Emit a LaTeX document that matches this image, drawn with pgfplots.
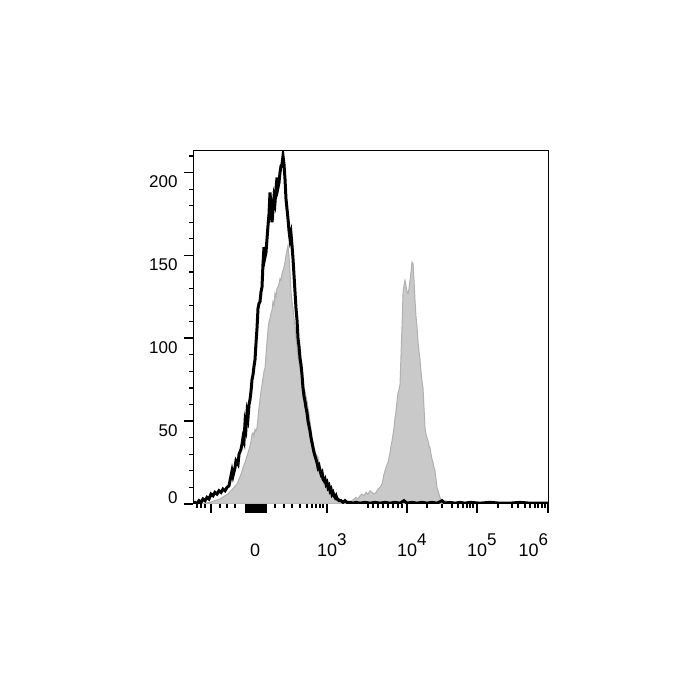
\documentclass[border=0pt]{standalone}
\usepackage{fontspec}
\setmainfont{Liberation Sans}
\usepackage{pgfplots}
\pgfplotsset{compat=1.18}
\newcommand\sups[1]{\raisebox{5.5pt}{\fontsize{8.5}{9}\selectfont #1}}
\begin{document}
\begin{tikzpicture}
\useasboundingbox (0,0) rectangle (350pt,350pt);
\begin{axis}[
  scale only axis, width=177.5pt, height=176.5pt,
  at={(96.5pt,98pt)}, anchor=south west,
  xmin=193, xmax=548, ymin=0, ymax=213,
  axis line style={black, line width=0.5pt},
  tick align=outside, tick pos=left,
  major tick length=4.5pt, minor tick length=2pt,
  major tick style={black, line width=0.9pt},
  minor tick style={black, line width=0.6pt},
  ticklabel style={font=\fontsize{9}{10}\selectfont},
  ytick={50,100,150,200}, yticklabels={50,100,150,200},
  minor ytick={10,20,30,40,60,70,80,90,110,120,130,140,160,170,180,190,210},
  yticklabel style={font=\fontsize{8.5}{10}\selectfont, anchor=north east, inner sep=0pt, xshift=-3pt, yshift=-1.5pt},
  extra y ticks={0}, extra y tick labels={0},
  extra y tick style={yticklabel style={anchor=south east, yshift=1.5pt}},
  xtick={255,327,407,477,548},
  xticklabels={0, 10\rlap{\sups{3}}, 10\rlap{\sups{4}}, 10\rlap{\sups{5}}, \llap{10\sups{6}}},
  xticklabel style={anchor=base, inner sep=0pt, yshift=-22pt},
  extra x ticks={211,246,248,250,252,254,256,258,260,262,264,266},
  extra x tick labels={},
  minor xtick={197,201,205,220,227,235,275,284,292,300,307,312,316,320,323,368,373,378,383,388,393,398,402,427,442,452,458,463,467,470,473,498,512,518,525,530,535,538,542,545},
  clip=true,
]
\addplot[fill=gray!42, draw=gray!62, line width=0.5pt] coordinates {
(200,0)(205,0.5)(210,1)(215,2)(220,3)(225,5)(228,6)(231,8)(234,10)(237,12)(239,15)(241,18)(243,22)(245,25)(247,29)(249,33)(250,35)(251,38)(252,42)(253,43)(254,41)(255,45)(256,44)(257,46)(258,52)(259,58)(260,63)(261,68)(262,72)(263,76)(264,80)(265,82)(266,90)(267,98)(268,105)(269,110)(270,112)(271,115)(272,117)(273,122)(274,120)(275,127)(276,125)(277,130)(278,131)(279,133)(280,136)(281,135)(282,139)(283,141)(284,143)(285,146)(286,150)(287,153)(288,156)(289,150)(290,140)(291,128)(292,122)(293,118)(294,112)(295,107)(296,100)(297,95)(298,89)(299,85)(300,82)(301,78)(302,76)(303,74)(304,70)(305,68)(306,65)(307,62)(308,58)(309,54)(310,50)(311,45)(312,40)(313,37)(314,34)(315,32)(316,30)(317,29)(318,28)(319,25)(320,22)(321,21)(322,20)(323,19)(324,17)(325,16)(326,14)(327,13)(328,12)(329,10)(330,9)(331,8)(332,7)(333,6)(334,5)(335,4)(336,4)(337,3)(338,3)(340,2)(342,2)(345,1)(348,1)(350,1)(352,2)(354,3)(356,4)(358,3)(360,5)(362,6)(364,5)(366,7)(368,6)(370,8)(372,7)(374,6)(376,7)(378,9)(380,10)(382,12)(383,15)(384,18)(385,20)(386,22)(387,24)(388,25)(389,28)(390,31)(391,35)(392,38)(393,42)(394,46)(395,52)(396,56)(397,62)(398,67)(399,69)(400,72)(401,90)(402,107)(403,127)(404,132)(405,135)(406,132)(407,128)(408,127)(409,130)(410,135)(411,140)(412,146)(413,145)(414,135)(415,123)(416,113)(417,107)(418,98)(419,92)(420,87)(421,80)(422,74)(423,70)(424,58)(425,46)(426,42)(427,40)(428,38)(429,35)(430,34)(431,30)(432,27)(433,25)(434,22)(435,20)(436,15)(437,10)(438,8)(439,6)(440,4)(441,3)(442,2)(444,1)(446,2)(448,1)(450,1.5)(452,0.5)(455,0.5)(460,0)
} \closedcycle;
\addplot[black, line width=1.5pt] coordinates {
(193,0.5)(195,1)(197,0)(199,2)(201,1)(203,3)(205,2)(207,4)(209,3)(211,6)(213,5)(215,7)(217,6)(219,8)(221,7)(223,9)(225,8)(227,10)(229,11)(230,14)(232,20)(233,17)(235,22)(236,26)(238,24)(239,30)(241,33)(242,36)(243,40)(244,38)(245,49)(246,46)(247,55)(248,52)(249,60)(250,63)(251,68)(252,75)(253,78)(254,83)(255,87)(256,97)(257,106)(258,118)(259,121)(260,122)(261,128)(262,131)(263,145)(264,155)(265,149)(266,152)(267,160)(268,168)(269,175)(270,188)(271,180)(272,170)(273,177)(274,185)(275,182)(276,190)(277,197)(278,191)(279,194)(280,200)(281,204)(282,205)(283,210)(284,205)(285,196)(286,184)(287,178)(288,172)(289,165)(290,160)(291,163)(292,156)(293,148)(294,138)(295,128)(296,118)(297,111)(298,100)(299,95)(300,88)(301,84)(302,78)(303,70)(304,65)(305,62)(306,58)(307,55)(308,50)(309,47)(310,44)(311,40)(312,37)(313,34)(314,31)(315,29)(316,27)(317,25)(318,22)(319,23)(320,20)(321,18)(322,19)(323,15)(324,14)(325,15)(326,12)(327,13)(328,10)(329,11)(330,8)(331,9)(332,6)(333,7)(334,5)(335,4)(336,5)(337,3)(338,3)(339,2)(341,2)(343,1)(345,2)(347,1)(350,1)(353,0.5)(356,1)(360,0.5)(365,1)(370,0.5)(375,1)(380,0.5)(385,1)(390,0.5)(395,1)(400,0.5)(404,2)(407,0.5)(412,1)(417,0.5)(422,1)(427,0.5)(432,1)(437,0.5)(442,2)(445,0.5)(450,1)(455,0.5)(460,1)(465,0.5)(470,1)(480,0.5)(490,1)(500,0.5)(510,0.5)(520,1)(530,0.5)(540,0.5)(548,0.5)
};
\end{axis}
\end{tikzpicture}
\end{document}
